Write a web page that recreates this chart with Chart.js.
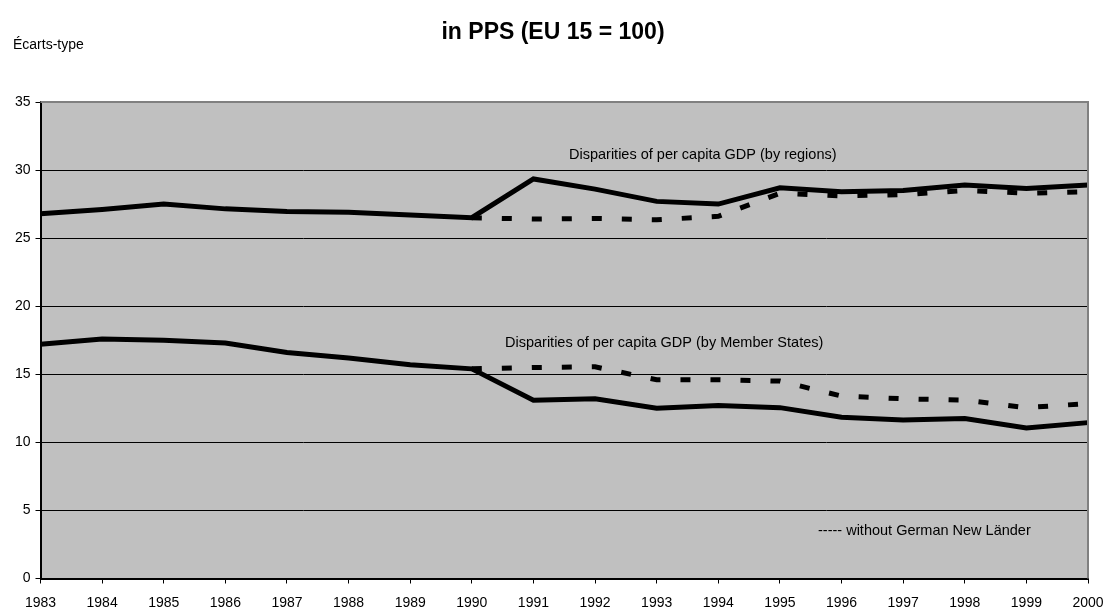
<!DOCTYPE html>
<html lang="en">
<head>
    <meta charset="UTF-8"/>
    <title>Disparities of per capita GDP</title>
    <script src="https://cdn.jsdelivr.net/npm/chart.js"></script>
    <style>
        body { margin: 0; background: #ffffff; }
        canvas { display: block; }
    </style>
</head>
<body>
    <canvas id="gdpChart" width="1106" height="609"></canvas>

    <script>
        const years = ['1983', '1984', '1985', '1986', '1987', '1988', '1989', '1990', '1991',
                       '1992', '1993', '1994', '1995', '1996', '1997', '1998', '1999', '2000'];
        const yTicks = [0, 5, 10, 15, 20, 25, 30, 35];

        // standard deviation, by regions / by member states
        const byRegions = [26.8, 27.1, 27.5, 27.15, 26.95, 26.9, 26.7, 26.5, 29.35,
                           28.6, 27.7, 27.5, 28.7, 28.4, 28.5, 28.9, 28.65, 28.9];
        const byRegionsNoNL = [null, null, null, null, null, null, null, 26.5, 26.4,
                               26.45, 26.35, 26.6, 28.3, 28.1, 28.2, 28.5, 28.3, 28.4];
        const byStates = [17.2, 17.6, 17.5, 17.3, 16.6, 16.2, 15.7, 15.4, 13.1,
                          13.2, 12.5, 12.7, 12.55, 11.85, 11.65, 11.75, 11.05, 11.45];
        const byStatesNoNL = [null, null, null, null, null, null, null, 15.4, 15.5,
                              15.55, 14.6, 14.6, 14.5, 13.4, 13.2, 13.1, 12.55, 12.85];

        const FONT = "'Liberation Sans', Arial, sans-serif";

        const plotDecor = {
            id: 'plotDecor',
            beforeDraw(chart) {
                const { ctx, chartArea: a } = chart;
                ctx.save();
                ctx.fillStyle = '#c0c0c0';
                ctx.fillRect(a.left, a.top, a.right - a.left, a.bottom - a.top);
                ctx.restore();
            },
            afterDraw(chart) {
                const { ctx, chartArea: a } = chart;
                const y = chart.scales.y;
                ctx.save();
                // grey frame top / right
                ctx.strokeStyle = '#808080';
                ctx.lineWidth = 2;
                ctx.beginPath();
                ctx.moveTo(a.left, a.top);
                ctx.lineTo(a.right, a.top);
                ctx.lineTo(a.right, a.bottom);
                ctx.stroke();

                ctx.fillStyle = '#000';
                ctx.textBaseline = 'middle';
                ctx.font = 'bold 23px ' + FONT;
                ctx.textAlign = 'center';
                ctx.fillText('in PPS (EU 15 = 100)', 553, 33);

                ctx.textAlign = 'left';
                ctx.font = '14px ' + FONT;
                ctx.fillText('Écarts-type', 13, 45);

                ctx.font = '14.5px ' + FONT;
                ctx.fillText('Disparities of per capita GDP (by regions)', 569, y.getPixelForValue(31.1));
                ctx.fillText('Disparities of per capita GDP (by Member States)', 505, y.getPixelForValue(17.3));
                ctx.fillText('----- without German New Länder', 818, y.getPixelForValue(3.5));
                ctx.restore();
            }
        };

        const lineStyle = (data, dashed) => ({
            data: data,
            borderColor: '#000',
            borderWidth: 5,
            borderDash: dashed ? [10, 20] : [],
            borderCapStyle: 'butt',
            borderJoinStyle: 'miter',
            pointRadius: 0,
            tension: 0,
            fill: false,
            spanGaps: false,
            order: dashed ? 2 : 1
        });

        new Chart(document.getElementById('gdpChart'), {
            type: 'line',
            data: {
                labels: years,
                datasets: [
                    Object.assign({ label: 'Disparities of per capita GDP (by regions)' }, lineStyle(byRegions, false)),
                    Object.assign({ label: 'Disparities of per capita GDP (by Member States)' }, lineStyle(byStates, false)),
                    Object.assign({ label: 'by regions, without German New Länder' }, lineStyle(byRegionsNoNL, true)),
                    Object.assign({ label: 'by Member States, without German New Länder' }, lineStyle(byStatesNoNL, true))
                ]
            },
            options: {
                responsive: false,
                animation: false,
                layout: { padding: { top: 102, right: 18, left: 0, bottom: 0 } },
                plugins: { legend: { display: false }, tooltip: { enabled: false } },
                scales: {
                    x: {
                        offset: false,
                        afterFit(s) { s.height = 30.5; s.paddingLeft = 0; s.paddingRight = 0; },
                        border: { display: true, color: '#000', width: 2 },
                        grid: { drawOnChartArea: false, drawTicks: true, tickLength: 5, tickColor: '#000' },
                        ticks: { color: '#000', font: { family: FONT, size: 14 }, padding: 11, maxRotation: 0, autoSkip: false }
                    },
                    y: {
                        min: 0,
                        max: 35,
                        afterBuildTicks(s) { s.ticks = yTicks.map(v => ({ value: v })); },
                        afterFit(s) { s.width = 40.5; s.paddingTop = 0; s.paddingBottom = 0; },
                        border: { display: true, color: '#000', width: 2 },
                        grid: {
                            color: c => c.tick && c.tick.value === 35 ? 'rgba(0,0,0,0)' : '#000',
                            lineWidth: 1,
                            tickLength: 5,
                            tickColor: '#000'
                        },
                        ticks: { color: '#000', font: { family: FONT, size: 14 }, padding: 5 }
                    }
                }
            },
            plugins: [plotDecor]
        });
    </script>
</body>
</html>
